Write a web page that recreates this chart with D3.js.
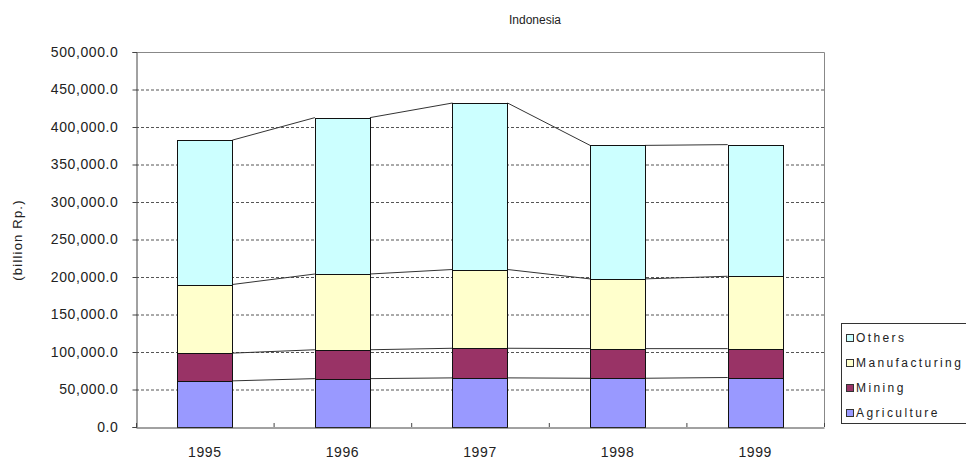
<!DOCTYPE html>
<html>
<head>
<meta charset="utf-8">
<script src="https://cdn.jsdelivr.net/npm/d3@7"></script>
<style>
  html, body { margin: 0; padding: 0; background: #fff; overflow: hidden; }
  text { font-family: "Liberation Sans", Arial, sans-serif; fill: #222; }
</style>
</head>
<body>
<div id="chart"></div>
<script>
// data (billion Rp.)
const years = ['1995', '1996', '1997', '1998', '1999'];
const seriesNames = ['Agriculture', 'Mining', 'Manufacturing', 'Others'];
const agriculture = [61500, 64500, 65500, 65000, 66000];
const mining = [37000, 38500, 39500, 39500, 38500];
const manufacturing = [91500, 101000, 105000, 93000, 96500];
const others = [192500, 208500, 222000, 178000, 175500];
const yTicks = [0, 50000, 100000, 150000, 200000, 250000, 300000, 350000, 400000, 450000, 500000];
const colors = ['#9999ff', '#993366', '#ffffcc', '#ccffff'];

const W = 966, H = 465;
const plot = { left: 136, right: 824, top: 52, bottom: 427 };

const svg = d3.select('#chart').append('svg')
    .attr('width', W)
    .attr('height', H);

const rows = years.map((y, i) => ({
    year: y,
    Agriculture: agriculture[i],
    Mining: mining[i],
    Manufacturing: manufacturing[i],
    Others: others[i]
}));
const stacked = d3.stack().keys(seriesNames)(rows);

const x = d3.scaleBand()
    .domain(years)
    .range([plot.left, plot.right])
    .paddingInner(0.6)
    .paddingOuter(0.3);

const y = d3.scaleLinear()
    .domain([0, 500000])
    .range([plot.bottom, plot.top]);

const color = d3.scaleOrdinal().domain(seriesNames).range(colors);

// gridlines
svg.append('g')
    .selectAll('line')
    .data(yTicks.slice(1))
    .enter()
    .append('line')
    .attr('x1', plot.left)
    .attr('x2', plot.right)
    .attr('y1', d => y(d) + 0.5)
    .attr('y2', d => y(d) + 0.5)
    .attr('stroke', '#555')
    .attr('stroke-width', 1)
    .attr('stroke-dasharray', '3,2');

// plot frame (top / right)
svg.append('path')
    .attr('d', `M${plot.left},${plot.top + 0.5}H${plot.right + 0.5}V${plot.bottom}`)
    .attr('fill', 'none')
    .attr('stroke', '#888')
    .attr('stroke-width', 1);

// series lines between bars
stacked.forEach(layer => {
    const pts = [];
    layer.forEach((d, i) => {
        if (i < layer.length - 1) {
            const next = layer[i + 1];
            pts.push([[x(years[i]) + x.bandwidth(), y(d[1])], [x(years[i + 1]), y(next[1])]]);
        }
    });
    svg.append('g')
        .selectAll('line')
        .data(pts)
        .enter()
        .append('line')
        .attr('x1', d => d[0][0])
        .attr('y1', d => d[0][1])
        .attr('x2', d => d[1][0])
        .attr('y2', d => d[1][1])
        .attr('stroke', '#333')
        .attr('stroke-width', 1);
});

// bars
svg.append('g')
    .selectAll('g')
    .data(stacked)
    .enter()
    .append('g')
    .attr('fill', d => color(d.key))
    .selectAll('rect')
    .data(d => d)
    .enter()
    .append('rect')
    .attr('x', d => Math.round(x(d.data.year)) + 0.5)
    .attr('y', d => Math.round(y(d[1])) + 0.5)
    .attr('width', Math.round(x.bandwidth()))
    .attr('height', d => Math.round(y(d[0])) - Math.round(y(d[1])))
    .attr('stroke', '#111')
    .attr('stroke-width', 1);

// y axis
const yAxis = svg.append('g')
    .attr('transform', `translate(${plot.left + 0.5},0)`)
    .call(d3.axisLeft(y)
        .tickValues(yTicks)
        .tickSize(4)
        .tickPadding(14)
        .tickFormat(d => d3.format(',.1f')(d)));
yAxis.select('.domain').attr('stroke', '#444');
yAxis.selectAll('.tick line').attr('stroke', '#444');
yAxis.selectAll('text')
    .style('font-size', '14px')
    .style('letter-spacing', '0.6px')
    .attr('fill', '#333');

// x axis
const xAxis = svg.append('g')
    .attr('transform', `translate(0,${plot.bottom + 0.5})`)
    .call(d3.axisBottom(x).tickSize(0).tickPadding(20));
xAxis.select('.domain').attr('stroke', '#444');
xAxis.selectAll('text')
    .style('font-size', '14px')
    .style('letter-spacing', '0.6px')
    .attr('fill', '#333');

// category boundary ticks
svg.append('g')
    .selectAll('line')
    .data(d3.range(years.length + 1))
    .enter()
    .append('line')
    .attr('x1', i => plot.left + i * x.step() + 0.5)
    .attr('x2', i => plot.left + i * x.step() + 0.5)
    .attr('y1', plot.bottom)
    .attr('y2', plot.bottom - 4)
    .attr('stroke', '#444');

// title
svg.append('text')
    .attr('x', 535)
    .attr('y', 24)
    .attr('text-anchor', 'middle')
    .style('font-size', '12px')
    .text('Indonesia');

// y title
svg.append('text')
    .attr('transform', 'translate(22,240) rotate(-90)')
    .attr('text-anchor', 'middle')
    .style('font-size', '13px')
    .style('letter-spacing', '1.2px')
    .text('(billion Rp.)');

// legend
const legend = svg.append('g').attr('transform', 'translate(841,323)');
legend.append('rect')
    .attr('x', 0.5)
    .attr('y', 0.5)
    .attr('width', 140)
    .attr('height', 100)
    .attr('fill', '#fff')
    .attr('stroke', '#333');

const legendItems = seriesNames.slice().reverse();
const li = legend.selectAll('g.item')
    .data(legendItems)
    .enter()
    .append('g')
    .attr('class', 'item')
    .attr('transform', (d, i) => `translate(5,${15 + i * 25})`);
li.append('rect')
    .attr('x', 0.5)
    .attr('y', -3.5)
    .attr('width', 7)
    .attr('height', 7)
    .attr('fill', d => color(d))
    .attr('stroke', '#333');
li.append('text')
    .attr('x', 10)
    .attr('y', 4)
    .style('font-size', '12px')
    .style('letter-spacing', '2.4px')
    .text(d => d);
</script>
</body>
</html>
